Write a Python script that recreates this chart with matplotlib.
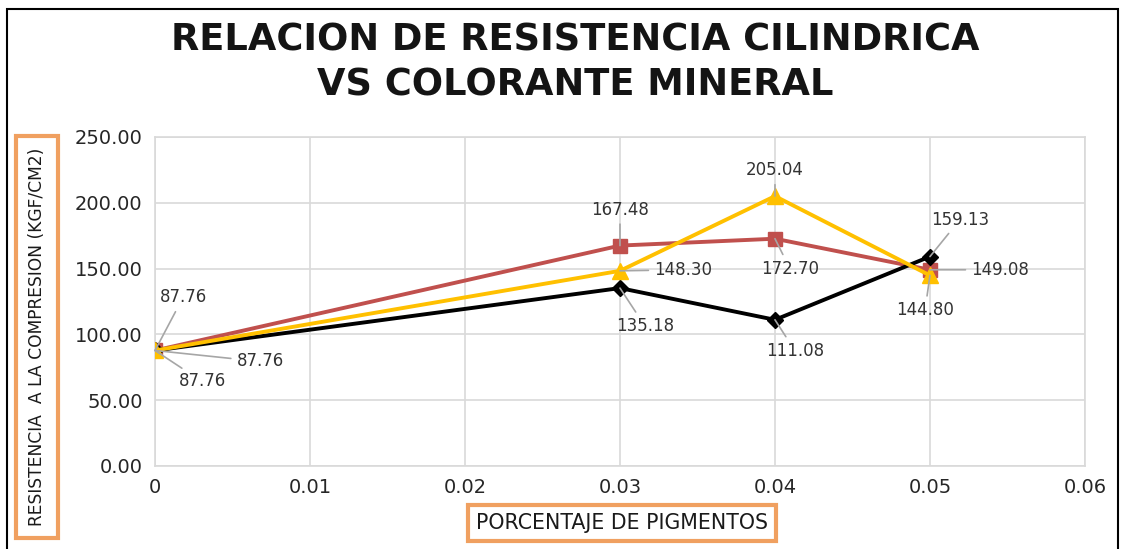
import matplotlib.pyplot as plt
from matplotlib.patches import Rectangle

# pigment percentage vs cylinder compression strength
pigment = [0, 0.03, 0.04, 0.05]
serie_negro = [87.76, 135.18, 111.08, 159.13]
serie_rojo = [87.76, 167.48, 172.70, 149.08]
serie_amarillo = [87.76, 148.30, 205.04, 144.80]

x_ticks = [0, 0.01, 0.02, 0.03, 0.04, 0.05, 0.06]
x_ticklabels = ["0", "0.01", "0.02", "0.03", "0.04", "0.05", "0.06"]
y_ticks = [0, 50, 100, 150, 200, 250]

# label offsets in pixels (dx, dy) for each point
off_rojo = [(28, 53), (0, 36), (15, -30), (70, 0)]
off_negro = [(105, -11), (25, -38), (20, -31), (30, 37)]
off_amarillo = [(47, -31), (63, 1), (0, 26), (-5, -35)]

plt.rcParams['font.family'] = ['DejaVu Sans']

fig = plt.figure(figsize=(11.25, 5.49), dpi=100)
ax = fig.add_axes([0.1378, 0.1512, 0.8266, 0.5993])

ax.plot(pigment, serie_rojo, color="#C0504D", lw=2.8, marker="s", ms=10, zorder=3)
ax.plot(pigment, serie_negro, color="black", lw=2.8, marker="D", ms=8.5, zorder=4)
ax.plot(pigment, serie_amarillo, color="#FFC000", lw=2.8, marker="^", ms=11, zorder=5)

for ys, offs in [(serie_rojo, off_rojo), (serie_negro, off_negro), (serie_amarillo, off_amarillo)]:
    for x, y, (dx, dy) in zip(pigment, ys, offs):
        ax.annotate(f"{y:.2f}", xy=(x, y), xytext=(dx, dy), textcoords="offset pixels",
                    ha="center", va="center", fontsize=12, color="#333333", zorder=6,
                    arrowprops=dict(arrowstyle="-", color="#A6A6A6", lw=1.2,
                                    shrinkA=2, shrinkB=0))

ax.set_xlim(0, 0.06)
ax.set_ylim(0, 250)
ax.set_xticks(x_ticks)
ax.set_xticklabels(x_ticklabels)
ax.set_yticks(y_ticks)
ax.set_yticklabels([f"{v:.2f}" for v in y_ticks])
ax.tick_params(length=0, labelsize=14, labelcolor="#262626", pad=9)
ax.grid(True, color="#D9D9D9", lw=1.2)
ax.set_axisbelow(True)
for s in ax.spines.values():
    s.set_color("#D9D9D9")
    s.set_linewidth(1.2)

fig.text(0.511, 0.927, "RELACION DE RESISTENCIA CILINDRICA", ha="center", va="center",
         fontsize=26.5, fontweight="bold", color="#141414")
fig.text(0.511, 0.845, "VS COLORANTE MINERAL", ha="center", va="center",
         fontsize=26.5, fontweight="bold", color="#141414")

fig.text(0.553, 0.047, "PORCENTAJE DE PIGMENTOS", ha="center", va="center",
         fontsize=14.8, color="#1a1a1a",
         bbox=dict(boxstyle="square,pad=0.38", fc="white", ec="#F0A060", lw=3))
fig.text(0.033, 0.386, "RESISTENCIA  A LA COMPRESION (KGF/CM2)", ha="center", va="center",
         rotation=90, fontsize=12.3, color="#1a1a1a",
         bbox=dict(boxstyle="square,pad=0.7", fc="white", ec="#F0A060", lw=3))

fig.patches.append(Rectangle((0.0062, -0.05), 0.9876, 1.034, transform=fig.transFigure,
                             fill=False, ec="black", lw=1.5, clip_on=False))

fig.savefig("out.png", dpi=100)
